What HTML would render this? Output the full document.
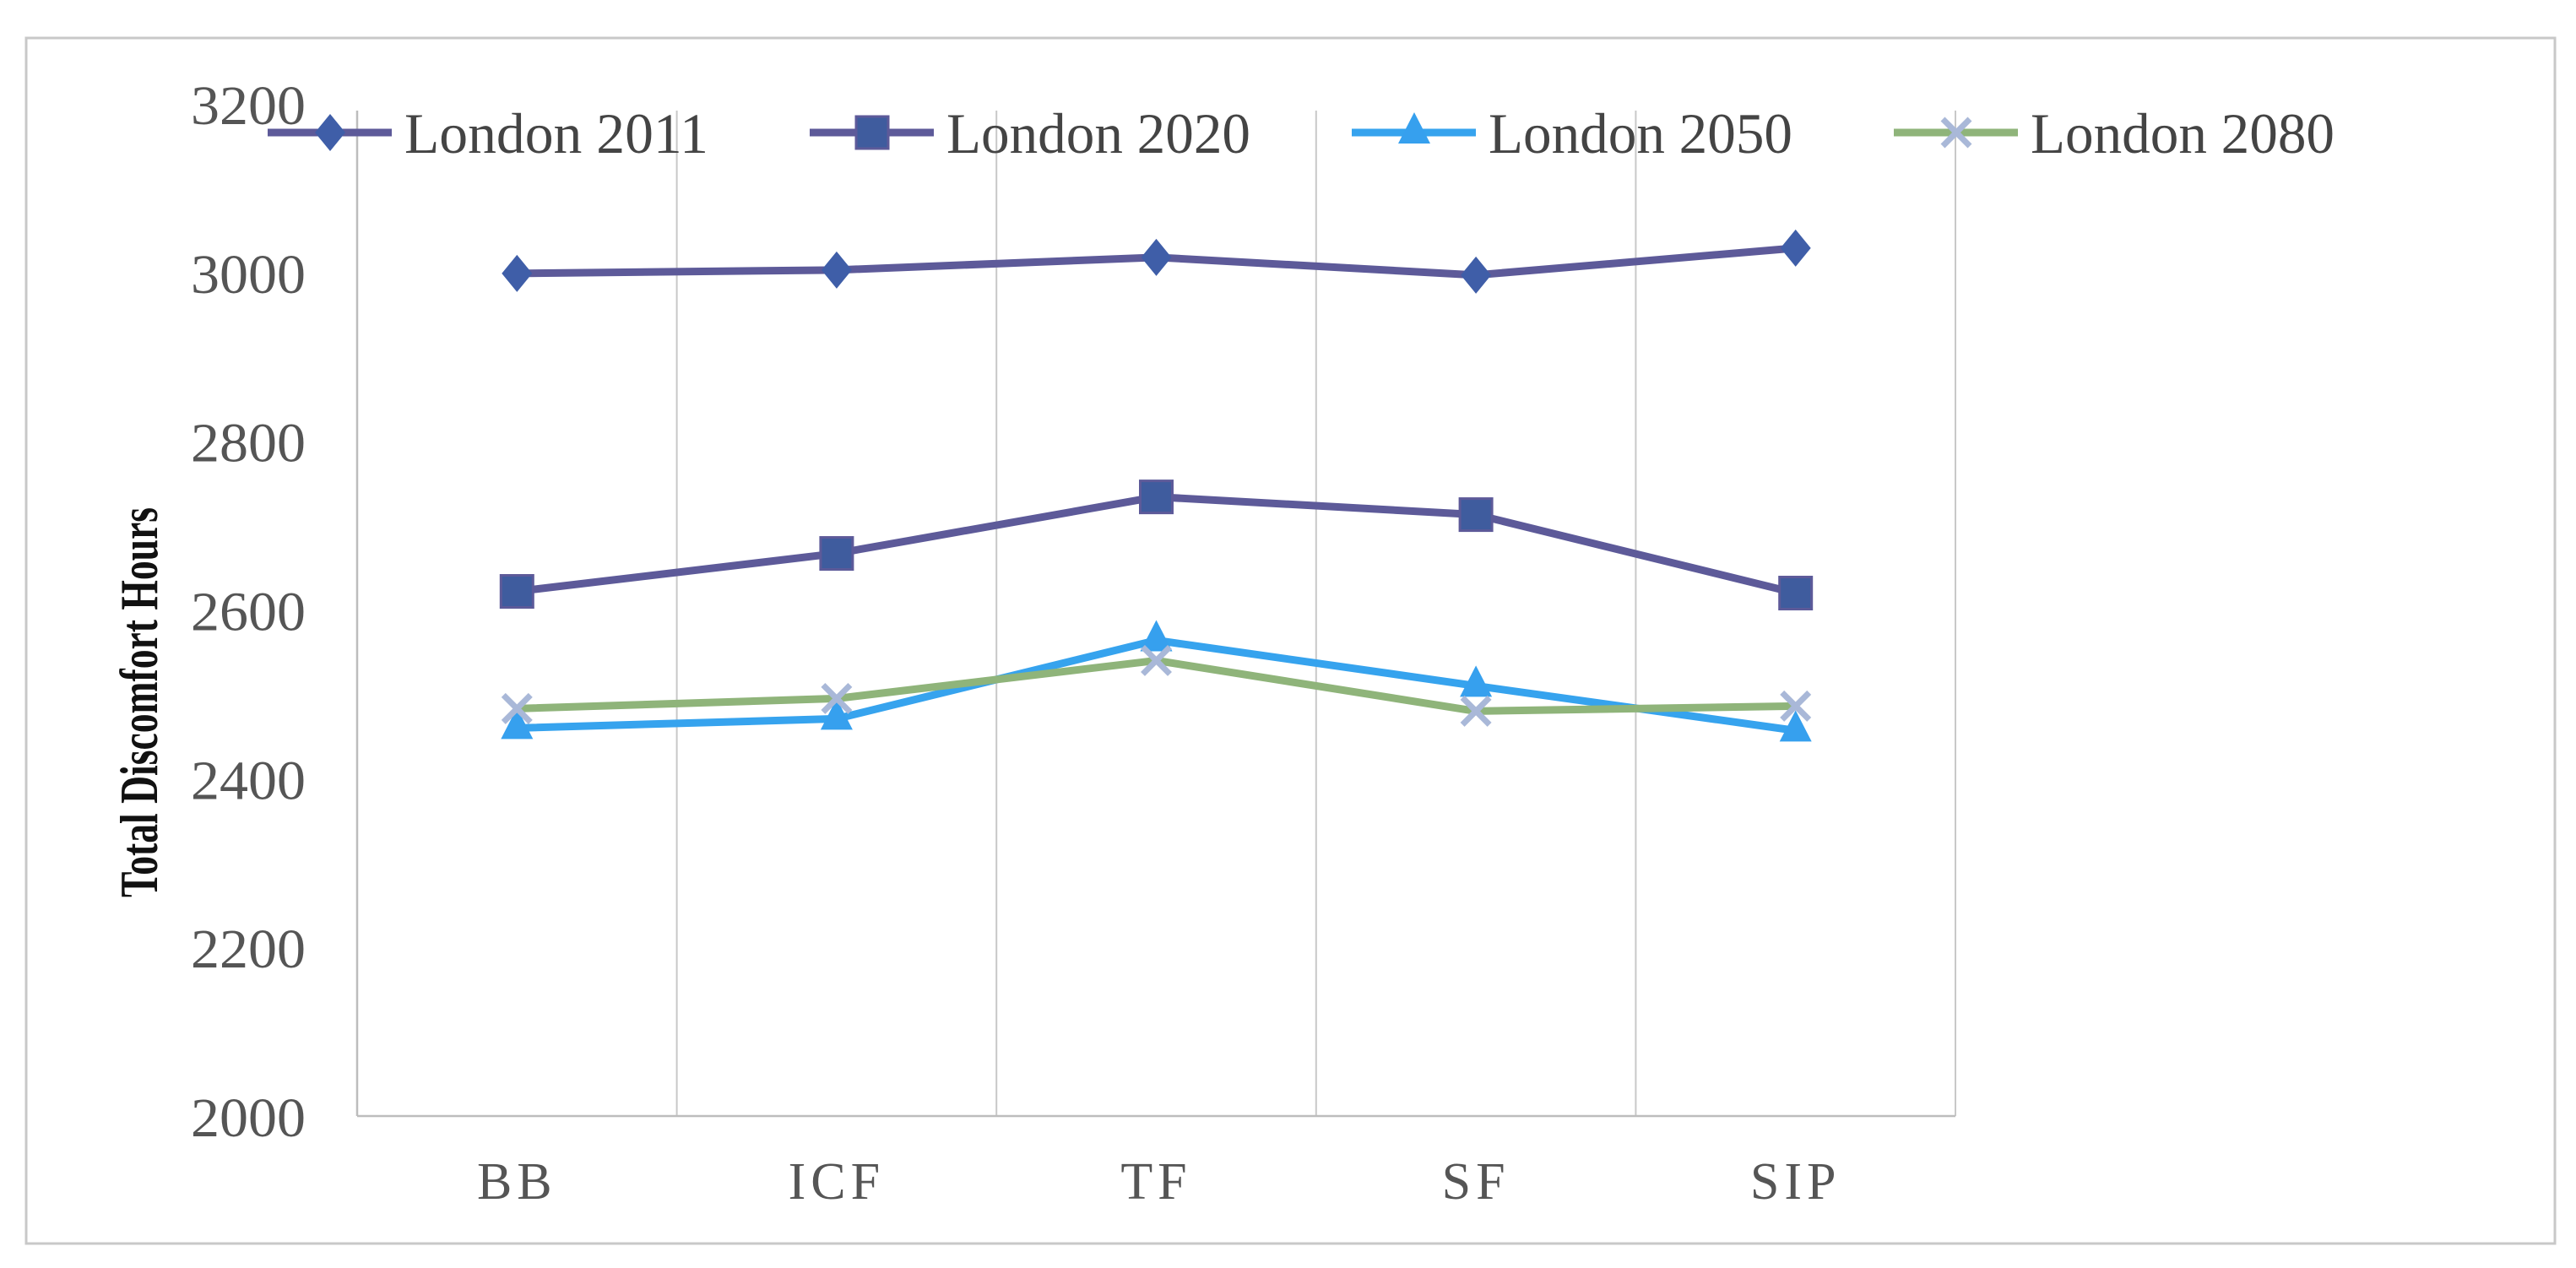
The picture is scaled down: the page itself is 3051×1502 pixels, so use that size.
<!DOCTYPE html>
<html><head><meta charset="utf-8"><style>
html,body{margin:0;padding:0;background:#fff;}
svg{display:block;}
text{font-family:"Liberation Serif",serif;}
</style></head><body>
<svg id="chart" width="3051" height="1502" viewBox="0 0 3051 1502" xmlns="http://www.w3.org/2000/svg">
<rect x="31" y="45" width="2995" height="1428" fill="#fff" stroke="#c8c8c8" stroke-width="3"/>
<g id="grid"></g>
<g id="axes"></g>
<g id="series"></g>
<g id="legend"></g>
<text transform="translate(186,832) rotate(-90)" text-anchor="middle" font-size="64" font-weight="bold" fill="#111" textLength="462" lengthAdjust="spacingAndGlyphs">Total Discomfort Hours</text>
</svg>
<script>
const categories = ["BB","ICF","TF","SF","SIP"];
const seriesNames = ["London 2011","London 2020","London 2050","London 2080"];
const london2011 = [2999, 3003, 3018, 2997, 3029];
const london2020 = [2622, 2667, 2734, 2713, 2620];
const london2050 = [2460, 2471, 2564, 2510, 2457];
const london2080 = [2483, 2495, 2540, 2480, 2486];
const yTicks = [2000,2200,2400,2600,2800,3000,3200];

const NS="http://www.w3.org/2000/svg";
const L=423,R=2316,T=123,B=1322,yMin=2000,yMax=3200;
const band=(R-L)/categories.length;
const xPos=i=>L+band*(i+0.5);
const yPos=v=>B-(v-yMin)/(yMax-yMin)*(B-T);
function mk(tag,attrs,parent){const e=document.createElementNS(NS,tag);for(const k in attrs)e.setAttribute(k,attrs[k]);parent.appendChild(e);return e;}
const grid=document.getElementById('grid'),axes=document.getElementById('axes'),ser=document.getElementById('series'),leg=document.getElementById('legend');

for(let i=1;i<=categories.length;i++){
  const g=mk('line',{x1:L+band*i,x2:L+band*i,y1:T+8,y2:B,stroke:'#c8c8c8','stroke-width':2},grid);
  
  
}
const ya=mk('line',{x1:L,x2:L,y1:T+8,y2:B,stroke:'#bdbdbd','stroke-width':2.5},axes);


const xa=mk('line',{x1:L,x2:R,y1:B,y2:B,stroke:'#bdbdbd','stroke-width':2.5},axes);


yTicks.forEach(v=>{
  const t=mk('text',{x:362,y:yPos(v)+24,'text-anchor':'end','font-size':66,fill:'#555',textLength:136,lengthAdjust:'spacingAndGlyphs'},axes);
  t.textContent=v;
  
  
});
categories.forEach((c,i)=>{
  const t=mk('text',{x:xPos(i),y:1420,'text-anchor':'middle','font-size':62,fill:'#555','letter-spacing':6},axes);
  t.textContent=c;
  
  
});

const styles=[
 {line:'#5d5a99',mark:'#3f5ea8',shape:'diamond'},
 {line:'#5d5a99',mark:'#3f5c9e',shape:'square'},
 {line:'#36a3ee',mark:'#36a0ee',shape:'triangle'},
 {line:'#8fb47a',mark:'#a9b8d8',shape:'x'}
];
function marker(shape,x,y,col,parent){
  let e;
  if(shape==='diamond') e=mk('polygon',{points:`${x},${y-22} ${x+18},${y} ${x},${y+22} ${x-18},${y}`,fill:col},parent);
  else if(shape==='square') e=mk('rect',{x:x-19,y:y-19,width:38,height:38,fill:col,stroke:'#5d5a99','stroke-width':3},parent);
  else if(shape==='triangle') e=mk('polygon',{points:`${x},${y-24} ${x+19},${y+13} ${x-19},${y+13}`,fill:col},parent);
  else e=mk('path',{d:`M${x-16},${y-16}L${x+16},${y+16}M${x+16},${y-16}L${x-16},${y+16}`,stroke:col,'stroke-width':7,fill:'none'},parent);
  return e;
}
const data=[london2011,london2020,london2050,london2080];
const seriesKeys=['london-2011','london-2020','london-2050','london-2080'];
data.forEach((vals,s)=>{
  const g=mk('g',{},ser);
  
  
  const pl=mk('polyline',{points:vals.map((v,i)=>xPos(i)+','+yPos(v)).join(' '),fill:'none',stroke:styles[s].line,'stroke-width':9,'stroke-linejoin':'round'},g);
  
  
  vals.forEach((v,i)=>{
    const m=marker(styles[s].shape,xPos(i),yPos(v),styles[s].mark,g);
    
    
  });
});
const legX=[317,959,1601,2243];
seriesNames.forEach((n,s)=>{
  const g=mk('g',{},leg);
  
  
  mk('line',{x1:legX[s],x2:legX[s]+147,y1:157,y2:157,stroke:styles[s].line,'stroke-width':9},g);
  marker(styles[s].shape,legX[s]+74,157,styles[s].mark,g);
  const t=mk('text',{x:legX[s]+162,y:181,'font-size':68,fill:'#444',textLength:360,lengthAdjust:'spacingAndGlyphs'},g);
  t.textContent=n;
});
</script>
</body></html>
